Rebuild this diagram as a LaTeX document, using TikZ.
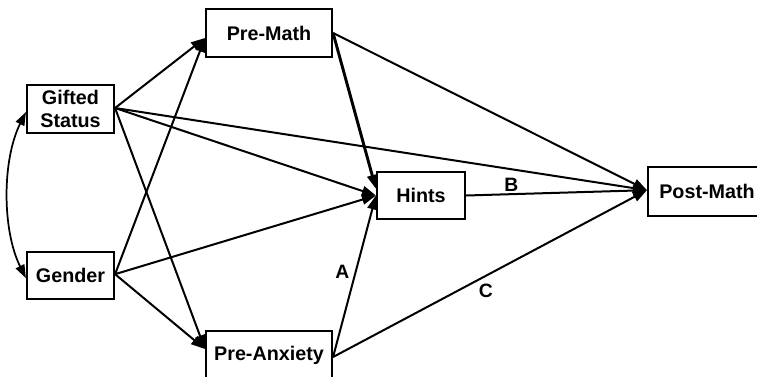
\documentclass[tikz,border=0pt]{standalone}
\usepackage{fontspec}
\setmainfont{Liberation Sans}
\usetikzlibrary{arrows.meta}
\begin{document}
\begin{tikzpicture}[x=0.75pt,y=-0.75pt,
  box/.style={draw, line width=1.6pt, fill=white, font=\bfseries\fontsize{14.8}{17.3}\selectfont, align=center, inner sep=0pt},
  path/.style={line width=1.5pt, -{Triangle[length=10.5pt,width=7.5pt]}},
  lbl/.style={font=\bfseries\fontsize{14.5}{16}\selectfont, inner sep=0pt}]
\useasboundingbox (0,0) rectangle (757,376);
\node[box, minimum width=65.25pt, minimum height=36pt] (gifted) at (70.5,109) {Gifted\\Status};
\node[box, minimum width=65.25pt, minimum height=35.25pt] (gender) at (70.5,275.5) {Gender};
\node[box, minimum width=94.5pt, minimum height=36pt] (premath) at (269,33) {Pre-Math};
\node[box, minimum width=94.5pt, minimum height=36pt] (preanx) at (269,355) {Pre-Anxiety};
\node[box, minimum width=66pt, minimum height=35.25pt] (hints) at (421,195.5) {Hints};
\node[box, minimum width=88.5pt, minimum height=36.75pt] (postmath) at (707,191.5) {Post-Math};

\coordinate (gE) at ([yshift=0.75pt]gifted.east);
\coordinate (gdE) at ([yshift=1pt]gender.east);
\coordinate (pmIn) at ([yshift=-3.75pt]premath.west);
\coordinate (pmOut) at ([yshift=0pt]premath.east);
\coordinate (paIn) at ([yshift=4.5pt]preanx.west);
\coordinate (paOut) at ([yshift=-1.5pt]preanx.east);
\coordinate (hIn) at (hints.west);
\coordinate (hInTop) at ([yshift=5pt]hints.west);
\coordinate (postIn) at ([yshift=1pt]postmath.west);

\draw[path] (gE) -- (pmIn);
\draw[path] (gdE) -- (pmIn);
\draw[path] (gE) -- (hIn);
\draw[path] (gdE) -- (hIn);
\draw[path] (gE) -- (postIn);
\draw[path] (gE) -- (paIn);
\draw[path] (gdE) -- (paIn);
\draw[path] (pmOut) -- (postIn);
\draw[path, line width=2.2pt] (pmOut) -- (hInTop);
\draw[path] (paOut) -- (hIn) node[lbl, pos=0.53, left=4pt] (la) {A};
\draw[path] (paOut) -- (postIn) node[lbl, pos=0.47, anchor=north west, xshift=-2pt, yshift=-3pt] (lc) {C};
\draw[path] (hints.east) -- (postIn) node[lbl, pos=0.25, above=1pt] (lb) {B};

\coordinate (cTop) at ([yshift=-2.25pt]gifted.west);
\coordinate (cBot) at ([yshift=-2pt]gender.west);
\draw[line width=1.3pt, {Triangle[length=10pt,width=7pt]}-{Triangle[length=10pt,width=7pt]}] (cTop) .. controls (2,160) and (2,230) .. (cBot);
\end{tikzpicture}
\end{document}
